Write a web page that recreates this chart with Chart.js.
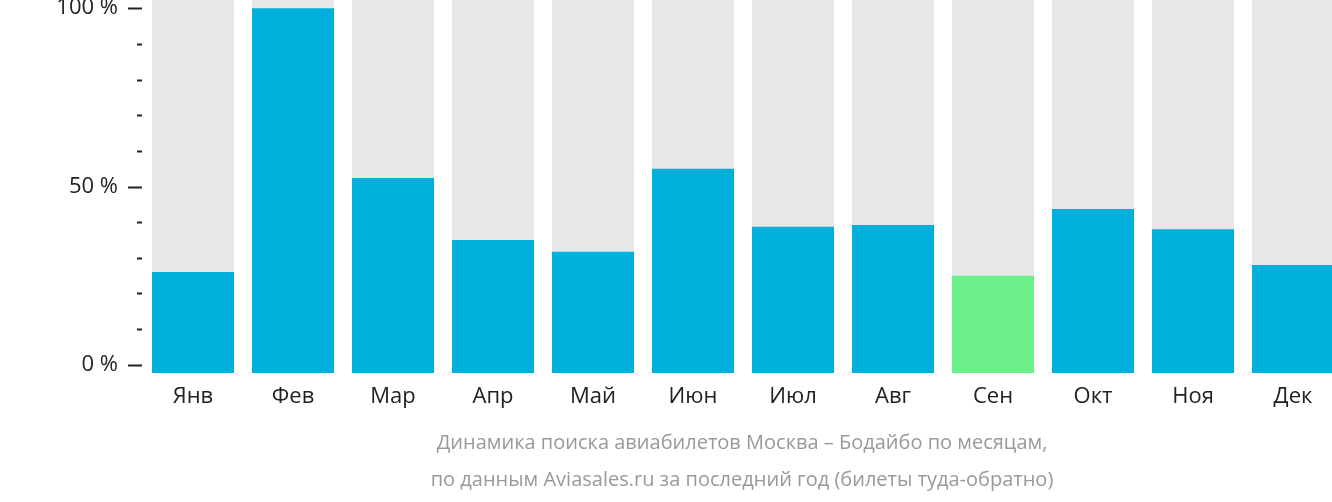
<!DOCTYPE html>
<html><head><meta charset="utf-8">
<script src="https://cdn.jsdelivr.net/npm/chart.js@4"></script>
<style>
body{margin:0;overflow:hidden;background:#fff}
#wrap{width:1332px;height:502px;overflow:hidden;position:relative}
#c{position:absolute;left:0;top:0}
</style></head><body>
<div id="wrap"><canvas id="c" width="1344" height="502"></canvas></div>
<script>
const months = ['Янв','Фев','Мар','Апр','Май','Июн','Июл','Авг','Сен','Окт','Ноя','Дек'];
const values = [26, 100, 52.4, 35, 31.7, 55, 38.7, 39.2, 25, 43.7, 38, 28];
const highlight = 8;
const yLabels = [[0,'0 %'],[50,'50 %'],[100,'100 %']];
const caption = ['Динамика поиска авиабилетов Москва – Бодайбо по месяцам,',
  'по данным Aviasales.ru за последний год (билеты туда-обратно)'];
const BASE = -2.3, TOP = 102.3;

const deco = {
  id: 'deco',
  afterDraw(chart) {
    const c = chart.ctx, y = chart.scales.y, x = chart.scales.x;
    c.save();
    c.strokeStyle = '#222'; c.lineWidth = 2;
    for (let v = 0; v <= 100; v += 10) {
      const py = Math.round(y.getPixelForValue(v)) + 0.5;
      const major = v % 50 === 0;
      c.beginPath(); c.moveTo(major ? 128 : 137, py); c.lineTo(142, py); c.stroke();
    }
    c.fillStyle = '#222'; c.font = '22px "Open Sans"';
    c.textAlign = 'right'; c.textBaseline = 'middle';
    yLabels.forEach(([v, t]) => c.fillText(t, 118, y.getPixelForValue(v)));
    c.textAlign = 'center';
    months.forEach((m, i) => c.fillText(m, x.getPixelForValue(i), 397));
    c.fillStyle = '#999'; c.font = '20px "Open Sans"';
    caption.forEach((t, i) => c.fillText(t, 742, 443 + i * 37));
    c.restore();
  }
};

new Chart(document.getElementById('c'), {
  type: 'bar',
  data: {
    labels: months,
    datasets: [{
      data: values.map(v => [BASE, v]),
      backgroundColor: values.map((v, i) => i === highlight ? '#6cf08a' : '#00b0dc'),
      barPercentage: 0.82, categoryPercentage: 1, grouped: false, order: 0
    }, {
      data: values.map(() => [BASE, TOP]),
      backgroundColor: '#e8e8e8',
      barPercentage: 0.82, categoryPercentage: 1, grouped: false, order: 1
    }]
  },
  options: {
    responsive: false, animation: false,
    layout: { padding: { left: 143, right: 1, top: 0, bottom: 129 } },
    scales: {
      x: { display: false },
      y: { display: false, min: BASE, max: TOP }
    },
    plugins: { legend: { display: false }, tooltip: { enabled: false } }
  },
  plugins: [deco]
});
</script></body></html>
